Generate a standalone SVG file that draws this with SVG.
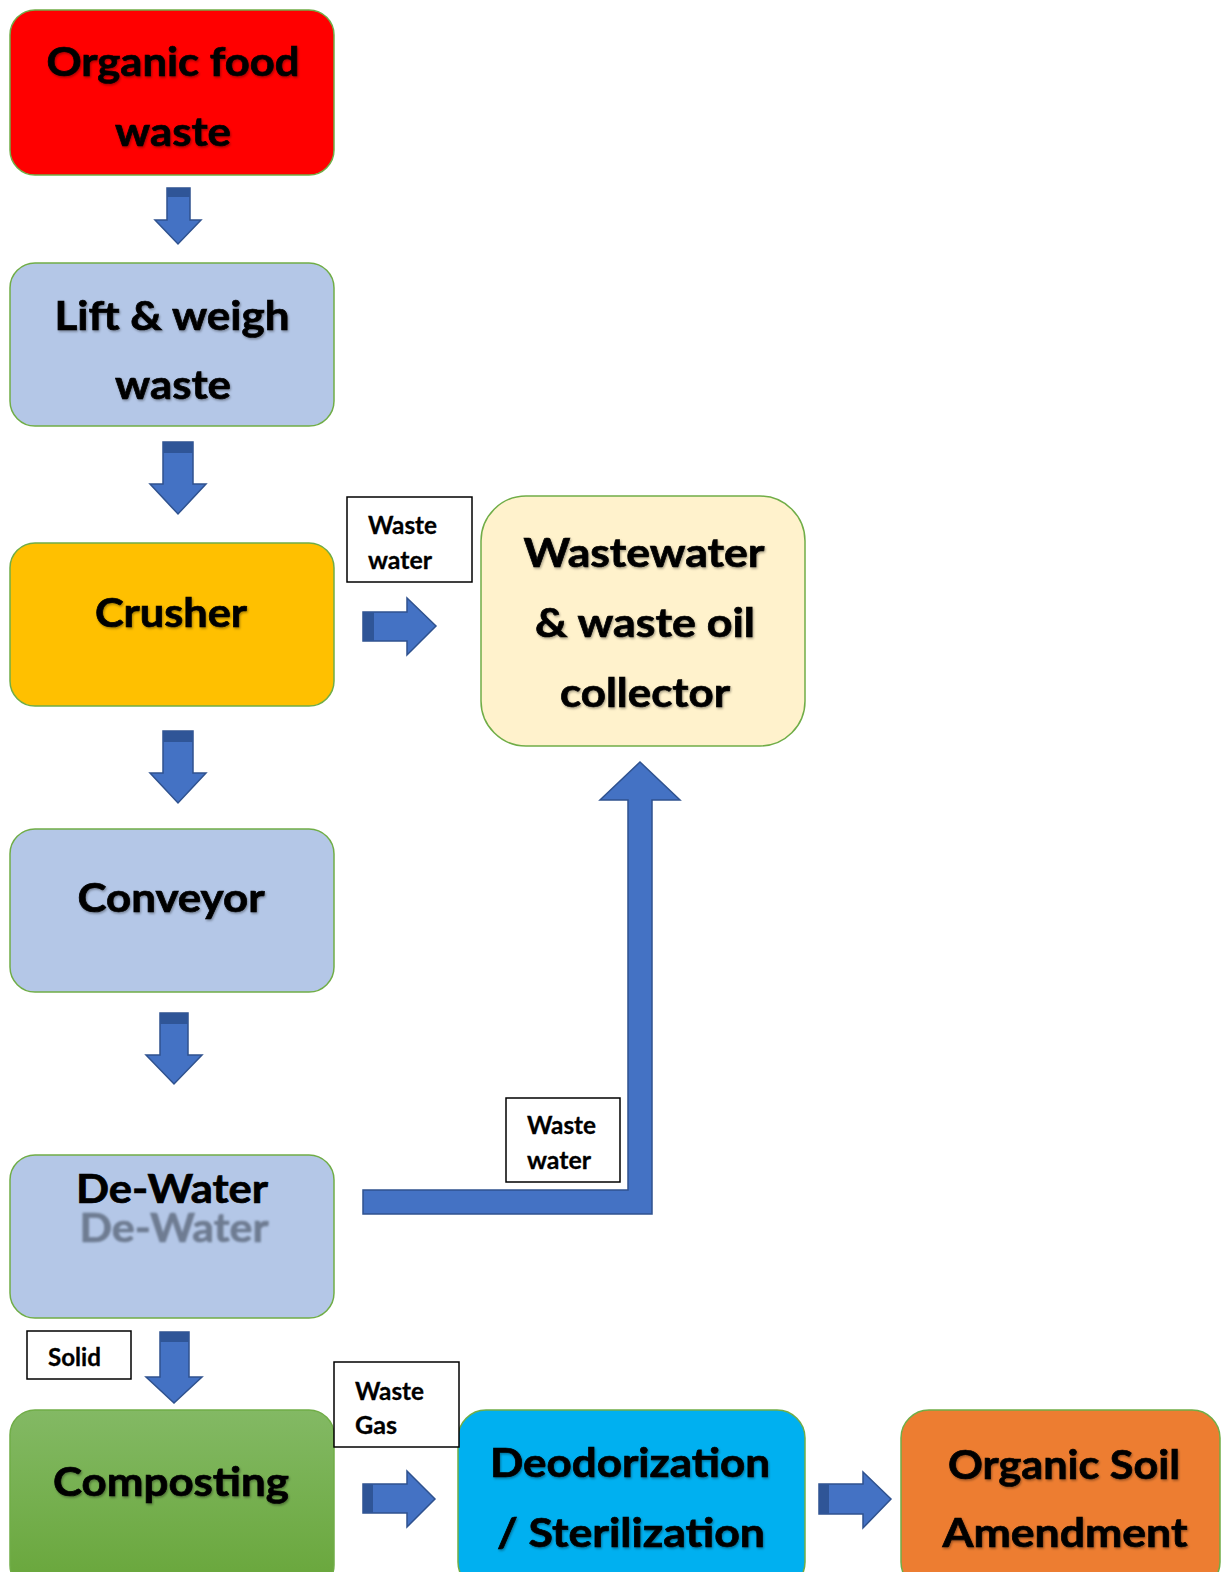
<svg xmlns="http://www.w3.org/2000/svg" width="1223" height="1572" viewBox="0 0 1223 1572">
<defs>
<style>
.box{stroke:#70AD47;stroke-width:1.5}
.t{font-family:Lato,"Open Sans","Liberation Sans",sans-serif;font-weight:700;font-size:41px;fill:#000;stroke:#000;stroke-width:0.7;text-anchor:middle}
.lbl{font-family:Lato,"Open Sans","Liberation Sans",sans-serif;font-weight:700;font-size:24px;fill:#000;stroke:#000;stroke-width:0.3}
.lb{fill:#fff;stroke:#000;stroke-width:1.5}
.arr{fill:#4472C4;stroke:#2F528F;stroke-width:1.5;stroke-linejoin:miter}
.cap{fill:#2F5597}
</style>
<linearGradient id="gComp" x1="0" y1="0" x2="0" y2="1">
<stop offset="0" stop-color="#83B964"/>
<stop offset="1" stop-color="#68A63A"/>
</linearGradient>
<filter id="sh" x="-10%" y="-30%" width="120%" height="160%">
<feDropShadow dx="1" dy="1.5" stdDeviation="1.2" flood-color="#000" flood-opacity="0.35"/>
</filter>
<filter id="blur" x="-10%" y="-30%" width="120%" height="160%">
<feGaussianBlur stdDeviation="1.1"/>
</filter>
</defs>
<rect width="1223" height="1572" fill="#fff"/>

<g id="organic-food-waste">
<rect class="box" x="10" y="10" width="324" height="165" rx="25" fill="#FF0000"/>
<g filter="url(#sh)">
<text class="t" x="173" y="76" textLength="253" lengthAdjust="spacingAndGlyphs">Organic food</text>
<text class="t" x="173" y="146" textLength="116" lengthAdjust="spacingAndGlyphs">waste</text>
</g>
</g>

<g id="lift-weigh">
<rect class="box" x="10" y="263" width="324" height="163" rx="25" fill="#B4C7E7"/>
<g filter="url(#sh)">
<text class="t" x="172" y="330" textLength="235" lengthAdjust="spacingAndGlyphs">Lift &amp; weigh</text>
<text class="t" x="173" y="399" textLength="116" lengthAdjust="spacingAndGlyphs">waste</text>
</g>
</g>

<g id="crusher">
<rect class="box" x="10" y="543" width="324" height="163" rx="25" fill="#FFC000"/>
<g filter="url(#sh)">
<text class="t" x="171" y="627" textLength="152" lengthAdjust="spacingAndGlyphs">Crusher</text>
</g>
</g>

<g id="conveyor">
<rect class="box" x="10" y="829" width="324" height="163" rx="25" fill="#B4C7E7"/>
<g filter="url(#sh)">
<text class="t" x="171" y="912" textLength="187" lengthAdjust="spacingAndGlyphs">Conveyor</text>
</g>
</g>

<g id="de-water">
<rect class="box" x="10" y="1155" width="324" height="163" rx="25" fill="#B4C7E7"/>
<text class="t" x="174" y="1242" textLength="189" lengthAdjust="spacingAndGlyphs" style="fill:#6E7C92;stroke:#6E7C92" filter="url(#blur)">De-Water</text>
<text class="t" x="172" y="1203" textLength="192" lengthAdjust="spacingAndGlyphs">De-Water</text>
</g>

<g id="composting">
<rect class="box" x="10" y="1410" width="324" height="180" rx="25" fill="url(#gComp)"/>
<g filter="url(#sh)">
<text class="t" x="171" y="1496" textLength="236" lengthAdjust="spacingAndGlyphs">Composting</text>
</g>
</g>

<g id="collector">
<rect class="box" x="481" y="496" width="324" height="250" rx="45" fill="#FFF2CC"/>
<g filter="url(#sh)">
<text class="t" x="644" y="567" textLength="241" lengthAdjust="spacingAndGlyphs">Wastewater</text>
<text class="t" x="645" y="637" textLength="220" lengthAdjust="spacingAndGlyphs">&amp; waste oil</text>
<text class="t" x="645" y="707" textLength="170" lengthAdjust="spacingAndGlyphs">collector</text>
</g>
</g>

<g id="deodorization">
<rect class="box" x="458" y="1410" width="347" height="180" rx="28" fill="#00B0F0"/>
<g filter="url(#sh)">
<text class="t" x="630" y="1477" textLength="280" lengthAdjust="spacingAndGlyphs">Deodorization</text>
<text class="t" x="631" y="1547" textLength="268" lengthAdjust="spacingAndGlyphs">/ Sterilization</text>
</g>
</g>

<g id="soil-amendment">
<rect class="box" x="901" y="1410" width="319" height="180" rx="28" fill="#ED7D31"/>
<g filter="url(#sh)">
<text class="t" x="1064" y="1479" textLength="232" lengthAdjust="spacingAndGlyphs">Organic Soil</text>
<text class="t" x="1065" y="1547" textLength="245" lengthAdjust="spacingAndGlyphs">Amendment</text>
</g>
</g>

<g id="labels">
<g id="label-waste-water-1">
<rect class="lb" x="347" y="497" width="125" height="85"/>
<text class="lbl" x="368" y="534" textLength="69" lengthAdjust="spacingAndGlyphs">Waste</text>
<text class="lbl" x="368" y="569" textLength="64" lengthAdjust="spacingAndGlyphs">water</text>
</g>
<g id="label-waste-water-2">
<rect class="lb" x="506" y="1098" width="114" height="84"/>
<text class="lbl" x="527" y="1134" textLength="69" lengthAdjust="spacingAndGlyphs">Waste</text>
<text class="lbl" x="527" y="1169" textLength="64" lengthAdjust="spacingAndGlyphs">water</text>
</g>
<g id="label-solid">
<rect class="lb" x="27" y="1331" width="104" height="48"/>
<text class="lbl" x="48" y="1366" textLength="53" lengthAdjust="spacingAndGlyphs">Solid</text>
</g>
<g id="label-waste-gas">
<rect class="lb" x="334" y="1362" width="125" height="85"/>
<text class="lbl" x="355" y="1400" textLength="69" lengthAdjust="spacingAndGlyphs">Waste</text>
<text class="lbl" x="355" y="1434" textLength="42" lengthAdjust="spacingAndGlyphs">Gas</text>
</g>
</g>

<g id="connectors">
<polygon class="arr" points="167,188 190,188 190,220 201,220 178,244 155,220 167,220"/>
<rect class="cap" x="167" y="188" width="23" height="9"/>

<polygon class="arr" points="163,442 193,442 193,484 206,484 178,514 150,484 163,484"/>
<rect class="cap" x="163" y="442" width="30" height="11"/>

<polygon class="arr" points="163,731 193,731 193,773 206,773 178,803 150,773 163,773"/>
<rect class="cap" x="163" y="731" width="30" height="11"/>

<polygon class="arr" points="160,1013 188,1013 188,1055 202,1055 174,1084 146,1055 160,1055"/>
<rect class="cap" x="160" y="1013" width="28" height="11"/>

<polygon class="arr" points="160,1332 189,1332 189,1377 202,1377 174,1403 146,1377 160,1377"/>
<rect class="cap" x="160" y="1332" width="29" height="10"/>

<polygon class="arr" points="363,612 407,612 407,598 436,626 407,655 407,641 363,641"/>
<rect class="cap" x="363" y="612" width="11" height="29"/>

<polygon class="arr" points="363,1484 407,1484 407,1471 435,1499 407,1527 407,1513 363,1513"/>
<rect class="cap" x="363" y="1484" width="10" height="29"/>

<polygon class="arr" points="819,1484 863,1484 863,1472 891,1499 863,1528 863,1514 819,1514"/>
<rect class="cap" x="819" y="1484" width="10" height="30"/>

<polygon class="arr" points="363,1190 628,1190 628,800 600,800 640,762 680,800 652,800 652,1214 363,1214"/>
</g>
</svg>
